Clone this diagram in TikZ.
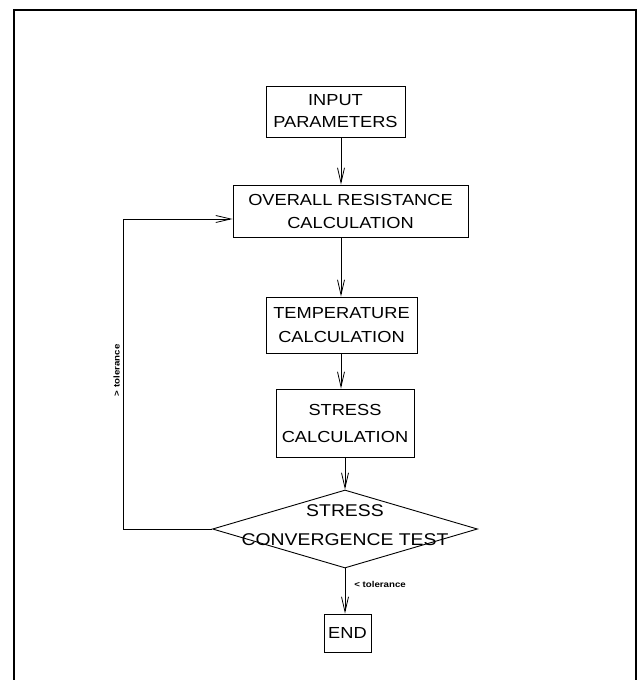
\documentclass[tikz,border=0pt]{standalone}
\usepackage{fontspec}
\setmainfont{Liberation Sans}[FakeStretch=1.14]
\usepackage{tikz}
\usetikzlibrary{arrows.meta, positioning, shapes.geometric}
\tikzset{
    flowbox/.style={rectangle, draw=black, line width=0.9pt, align=center, inner xsep=2pt, inner ysep=2pt, font=\fontsize{16}{24}\selectfont},
    flowdecision/.style={diamond, draw=black, line width=0.9pt, inner sep=0pt, minimum width=265pt, minimum height=78pt},
    flowtext/.style={align=center, inner sep=0pt, font=\fontsize{17}{29}\selectfont},
    flowarrow/.style={-{Straight Barb[length=15pt,width=7pt]}, line width=0.8pt},
    flownote/.style={font=\bfseries\fontsize{8.5}{10}\selectfont, inner sep=1pt},
    framebar/.style={line width=2.4pt}
}

\begin{document}
\begin{tikzpicture}[x=1pt, y=-1pt]
    \useasboundingbox (0,0) rectangle (643,680);
    % Outer frame (open at the bottom)
    \draw[framebar] (14,680) -- (14,10) -- (636,10) -- (636,680);

    \coordinate (col) at (341,0);
    \coordinate (back) at (123,219);

    \node[flowbox, minimum width=139pt, minimum height=51pt, font=\fontsize{16}{22}\selectfont] (inp) at (335.5,111.5) {INPUT\\PARAMETERS};
    \node[flowbox, minimum width=235pt, minimum height=52pt, font=\fontsize{16}{23}\selectfont] (ovr) at (350.5,211) {OVERALL RESISTANCE\\CALCULATION};
    \node[flowbox, minimum width=151pt, minimum height=56pt] (temp) at (341.5,325) {TEMPERATURE\\CALCULATION};
    \node[flowbox, minimum width=138pt, minimum height=68pt, font=\fontsize{16}{27}\selectfont] (stress) at (345,423) {STRESS\\CALCULATION};
    \node[flowdecision] (test) at (345,529) {};
    \node[flowtext] (testlbl) at (345,525) {STRESS\\CONVERGENCE TEST};
    \node[flowbox, minimum width=47pt, minimum height=38pt] (done) at (347.5,633) {END};

    % Main chain
    \draw[flowarrow] (inp.south -| col) -- (ovr.north -| col);
    \draw[flowarrow] (ovr.south -| col) -- (temp.north -| col);
    \draw[flowarrow] (temp.south -| col) -- (stress.north -| col);
    \draw[flowarrow] (stress.south -| test.north) -- (test.north);
    \draw[flowarrow] (test.south) -- node[pos=0.36, right=8pt, flownote] {< tolerance} (done.north -| test.south);

    % Feedback loop
    \draw[flowarrow] (test.west) -| node[pos=0.756, anchor=south, rotate=90, flownote, yshift=2pt] {> tolerance} (back) -- (back -| ovr.west);
\end{tikzpicture}
\end{document}
